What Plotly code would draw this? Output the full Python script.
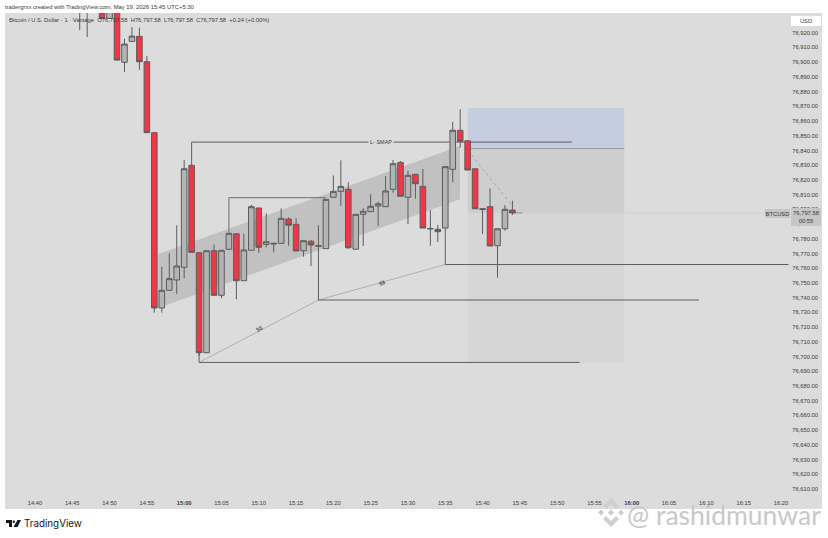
import plotly.graph_objects as go

DAY = "2026-05-19 "
times = ["14:46","14:47","14:48","14:49","14:50","14:51","14:52","14:53","14:54","14:55","14:56","14:57","14:58","14:59",
         "15:00","15:01","15:02","15:03","15:04","15:05","15:06","15:07","15:08","15:09","15:10","15:11","15:12","15:13",
         "15:14","15:15","15:16","15:17","15:18","15:19","15:20","15:21","15:22","15:23","15:24","15:25","15:26","15:27",
         "15:28","15:29","15:30","15:31","15:32","15:33","15:34","15:35","15:36","15:37","15:38","15:39","15:40","15:41",
         "15:42","15:43","15:44"]
opens = [76945,76945,76950,76945,76929.8,76945,76899.9,76914.1,76917.5,76900.3,76852.1,76733.0,76745.0,76752.0,
         76760.6,76829.9,76770.5,76702.6,76771.9,76741.6,76772.9,76783.4,76751.5,76772.2,76800.9,76776.2,76776.4,76776.9,
         76793.4,76789.8,76771.9,76778.3,76774.9,76773.3,76808.2,76812.2,76813.6,76772.9,76796.6,76798.4,76802.3,76801.8,
         76813.6,76831.9,76808.2,76823.8,76815.6,76787.0,76786.4,76787.3,76827.2,76853.7,76846.6,76827.6,76800.4,76801.8,
         76775.3,76786.8,76799.5]
highs = [76960,76955,76960,76950,76945,76950,76915.9,76923.9,76923.4,76904.2,76852.1,76761.0,76770.1,76789.2,
         76833.5,76829.9,76770.5,76771.9,76776.2,76772.2,76783.7,76783.4,76783.4,76803.1,76800.9,76797.3,76776.9,76800.7,
         76794.6,76793.9,76778.7,76779.2,76789.2,76806.8,76823.0,76833.3,76818.4,76796.6,76800.9,76810.2,76805.2,76822.6,
         76833.5,76832.8,76826.2,76823.8,76827.4,76799.5,76789.4,76829.0,76859.5,76868.0,76846.6,76827.6,76800.9,76814.3,
         76786.8,76802.9,76805.9]
lows = [76921.8,76917.1,76940,76929.6,76929.8,76901.4,76893.3,76914.1,76894.9,76852.1,76729.8,76729.8,76745.0,76742.5,
        76753.2,76770.8,76700.4,76702.6,76741.6,76739.6,76772.4,76738.9,76751.5,76772.2,76770.5,76774.2,76770.8,76776.9,
        76775.3,76771.7,76767.8,76761.5,76774.9,76773.3,76808.2,76802.3,76773.1,76772.9,76775.1,76798.4,76788.7,76801.8,
        76811.3,76808.9,76790.0,76807.2,76787.3,76775.3,76777.8,76787.3,76818.4,76841.9,76826.7,76800.4,76783.2,76775.1,
        76753.6,76785.5,76796.2]
closes = [76950,76950,76955,76929.6,76940,76901.4,76912.3,76917.7,76900.3,76852.1,76733.0,76745.0,76752.9,76761.5,
          76827.6,76770.8,76702.6,76771.9,76741.6,76772.2,76783.7,76751.5,76772.4,76801.8,76774.2,76778.0,76776.9,76793.9,
          76789.2,76771.7,76778.7,76775.8,76775.3,76806.8,76812.2,76815.6,76773.9,76796.6,76798.7,76802.1,76803.8,76812.5,
          76831.0,76808.9,76823.1,76817.4,76787.3,76786.8,76784.8,76829.0,76853.7,76846.2,76826.7,76800.4,76800.0,76775.1,
          76786.8,76800.0,76797.58]

y_ticks = list(range(76610, 76930, 10))
x_tick_times = ["14:40","14:45","14:50","14:55","15:00","15:05","15:10","15:15","15:20","15:25","15:30","15:35","15:40",
                "15:45","15:50","15:55","16:00","16:05","16:10","16:15","16:20"]

channel_t = ["14:56:32", "15:36:58", "15:36:58", "14:56:32"]
channel_p = [76769.7, 76843.0, 76806.8, 76733.0]

smap_t = ["15:01", "15:01", "15:52"]
smap_p = [76829.9, 76845.7, 76845.7]
level2_t = ["15:06", "15:06", "15:19"]
level2_p = [76783.7, 76807.9, 76807.9]
ss1_t = ["15:02", "15:02", "15:53"]
ss1_p = [76702.6, 76696.0, 76696.0]
ss2_t = ["15:18", "15:18", "16:09"]
ss2_p = [76774.9, 76738.4, 76738.4]
ss3_t = ["15:35", "15:35", "16:21"]
ss3_p = [76787.3, 76762.5, 76762.5]
diag_t = ["15:02", "15:18", "15:35"]
diag_p = [76696.0, 76738.4, 76762.5]
dot_t = ["15:38", "15:44"]
dot_p = [76840.3, 76802.3]
last_t = ["15:44", "15:45:20"]
last_p = [76797.58, 76797.58]

pos_t = ["15:38", "15:59"]
pos_target = [76841.3, 76868.8]
pos_upper = [76797.2, 76841.3]
pos_lower = [76695.6, 76797.2]

FONT = "Liberation Sans"
TXT = "#3a3a3a"
LEFT, RIGHT, TOP, BOTTOM = 5, 822, 13, 509


def d(t):
    return DAY + t + (":00" if t.count(":") == 1 else "")


def px(x):
    return (x - LEFT) / (RIGHT - LEFT)


def py(y):
    return (BOTTOM - y) / (BOTTOM - TOP)


def data_path(ts, ps, close=False):
    pts = [f"{d(t).replace(' ', '_')},{p}" for t, p in zip(ts, ps)]
    return "M" + " L".join(pts) + (" Z" if close else "")


fig = go.Figure()

fig.add_trace(go.Candlestick(
    x=[d(t) for t in times], open=opens, high=highs, low=lows, close=closes,
    increasing=dict(line=dict(color="#5c5c5c", width=1), fillcolor="#b4b4b4"),
    decreasing=dict(line=dict(color="#5c5c5c", width=1), fillcolor="#f23645"),
    whiskerwidth=0, showlegend=False, hoverinfo="skip"))

shapes = []
for vals, col in [(pos_target, "#c5cde0"), (pos_upper, "#cecece"), (pos_lower, "#d6d6d6")]:
    shapes.append(dict(type="rect", xref="x", yref="y", x0=d(pos_t[0]), x1=d(pos_t[1]), y0=vals[0], y1=vals[1],
                       fillcolor=col, line=dict(width=0), layer="below"))
shapes.append(dict(type="line", xref="x", yref="y", x0=d(pos_t[0]), x1=d(pos_t[1]), y0=pos_target[0], y1=pos_target[0],
                   line=dict(color="#9a9a9a", width=1), layer="below"))
shapes.append(dict(type="line", xref="x", yref="y", x0=d("15:45"), x1=d("16:20"), y0=closes[-1], y1=closes[-1],
                   line=dict(color="#d2d2d2", width=1), layer="below"))
shapes.append(dict(type="path", xref="x", yref="y", path=data_path(channel_t, channel_p, True),
                   fillcolor="#c1c1c1", line=dict(width=0), layer="below"))
for ts, ps, col, w, dash in [
    (diag_t, diag_p, "#9c9c9c", 0.7, "solid"),
    (smap_t, smap_p, "#5e5e5e", 1, "solid"),
    (level2_t, level2_p, "#6e6e6e", 1, "solid"),
    (ss1_t, ss1_p, "#5e5e5e", 1, "solid"),
    (ss2_t, ss2_p, "#5e5e5e", 1, "solid"),
    (ss3_t, ss3_p, "#5e5e5e", 1, "solid"),
    (dot_t, dot_p, "#9a9a9a", 0.8, "dot"),
    (last_t, last_p, "#8a8a8a", 1, "solid"),
]:
    shapes.append(dict(type="path", xref="x", yref="y", path=data_path(ts, ps),
                       line=dict(color=col, width=w, dash=dash), layer="below"))


def pp(points):
    return "M" + " L".join(f"{px(a):.5f},{py(b):.5f}" for a, b in points) + " Z"


def diamond(cx, cy, r):
    return pp([(cx, cy - r), (cx + r, cy), (cx, cy + r), (cx - r, cy)])


# watermark logo and TradingView mark
logo = "#cfcfcf"
for cx, cy, r in [(611, 512.5, 3.2), (601, 512.5, 3), (621, 512.5, 3)]:
    shapes.append(dict(type="path", xref="paper", yref="paper", path=diamond(cx, cy, r),
                       fillcolor=logo, line=dict(width=0), layer="above"))
shapes.append(dict(type="path", xref="paper", yref="paper",
                   path=pp([(611, 498), (619, 506), (616, 509), (611, 504), (606, 509), (603, 506)]),
                   fillcolor=logo, line=dict(width=0), layer="above"))
shapes.append(dict(type="path", xref="paper", yref="paper",
                   path=pp([(611, 527), (619, 519), (616, 516), (611, 521), (606, 516), (603, 519)]),
                   fillcolor=logo, line=dict(width=0), layer="above"))
shapes.append(dict(type="path", xref="paper", yref="paper",
                   path=pp([(6, 520), (12, 520), (12, 527), (9, 527), (9, 523), (6, 523)]),
                   fillcolor="#131722", line=dict(width=0), layer="above"))
shapes.append(dict(type="circle", xref="paper", yref="paper", x0=px(12.6), x1=px(15), y0=py(523), y1=py(520.4),
                   fillcolor="#131722", line=dict(width=0), layer="above"))
shapes.append(dict(type="path", xref="paper", yref="paper",
                   path=pp([(17.5, 520), (21, 520), (17.5, 527), (13.5, 527)]),
                   fillcolor="#131722", line=dict(width=0), layer="above"))


def note(x, y, text, size=6, color=TXT, xanchor="left", yanchor="middle", bg=None, angle=0, family=FONT, **kw):
    a = dict(xref="paper", yref="paper", x=px(x), y=py(y), text=text, showarrow=False, xanchor=xanchor,
             yanchor=yanchor, textangle=angle, font=dict(family=family, size=size, color=color),
             borderpad=0, borderwidth=0)
    if bg:
        a["bgcolor"] = bg
    a.update(kw)
    return a


annotations = [
    note(5, 7, "tradergrxx created with TradingView.com, May 19, 2026 15:45 UTC+5:30", 5.85),
    note(9, 20, "Bitcoin / U.S. Dollar · 1 · Vantage &nbsp;O76,797.58 &nbsp;H76,797.58 &nbsp;L76,797.58 &nbsp;C76,797.58 &nbsp;+0.24 (+0.00%)", 5.8),
    note(806, 21, "USD", 5.8, xanchor="center", bg="#ffffff", width=30, height=10),
    note(806, 217, "76,797.58<br>00:55", 5.8, xanchor="center", bg="#c6c6c6", width=30, height=18),
    note(777.5, 213.5, "BTCUSD", 5.8, xanchor="center", bg="#c6c6c6", width=25, height=9),
    dict(x=d("15:26:24"), y=smap_p[1], xref="x", yref="y", text="L- SMAP", showarrow=False, bgcolor="#dcdcdc",
         font=dict(family=FONT, size=5.5, color=TXT)),
    dict(x=d("15:10:00"), y=76719, xref="x", yref="y", text="$$", showarrow=False, textangle=-28,
         font=dict(family=FONT, size=5.5, color=TXT)),
    dict(x=d("15:26:30"), y=76750, xref="x", yref="y", text="$$", showarrow=False, textangle=-16,
         font=dict(family=FONT, size=5.5, color=TXT)),
    note(24, 523.5, "TradingView", 9.8, color="#131722", family="Inter"),
    note(627, 514.5, "@ rashidmunwar", 26.5, color="#c9c9c9", family="Lato"),
]

tick_text = [("<b>" + t + "</b>") if t in ("15:00", "16:00") else t for t in x_tick_times]

fig.update_layout(
    width=828, height=538, autosize=False,
    margin=dict(l=LEFT, r=828 - RIGHT, t=TOP, b=538 - BOTTOM),
    paper_bgcolor="#ffffff", plot_bgcolor="#dcdcdc",
    showlegend=False, shapes=shapes, annotations=annotations,
    font=dict(family=FONT, size=6, color=TXT),
    boxgap=0.25, boxgroupgap=0,
    xaxis=dict(type="date", range=[DAY + "14:35:59", DAY + "16:25:30"], tickmode="array",
               tickvals=[d(t) for t in x_tick_times], ticktext=tick_text, ticklabelposition="inside",
               ticklen=0, showgrid=False, zeroline=False, showline=False, rangeslider=dict(visible=False),
               tickangle=0, tickfont=dict(family=FONT, size=5.8, color=TXT), ticklabelstandoff=0),
    yaxis=dict(side="right", range=[76596.4, 76933.4], tickmode="array", tickvals=y_ticks,
               ticktext=[f"{v:,.2f}" for v in y_ticks], ticklabelposition="inside", ticklen=0, showgrid=False,
               zeroline=False, showline=False, tickfont=dict(family=FONT, size=5.8, color=TXT), ticklabelstandoff=1),
)

fig.write_html("out.html", config={"displayModeBar": False},
               post_script="document.body.style.margin='0';")
